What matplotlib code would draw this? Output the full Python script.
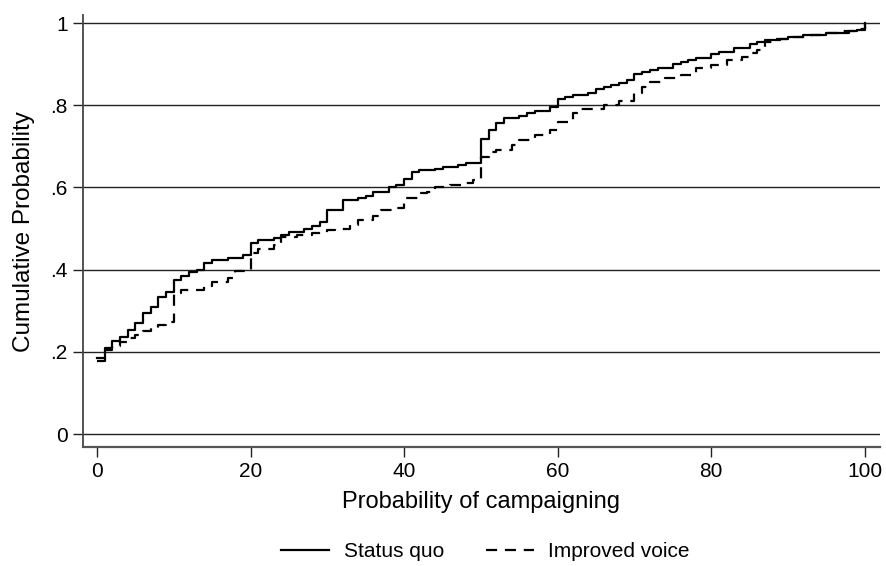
"""Status quo vs improved voice: cumulative distribution of campaigning probability."""
import matplotlib
matplotlib.use('Agg')

import matplotlib.pyplot as plt
from matplotlib.lines import Line2D

# ── data (step positions after each jump) ────────────────────────────────────
SQ_X = [0, 1, 2, 3, 4, 5, 6, 7, 8, 9, 10, 11, 12, 13, 14, 15, 17, 19, 20, 21,
        23, 24, 25, 27, 28, 29, 30, 32, 34, 35, 36, 38, 39, 40, 41, 42, 44, 45,
        47, 48, 50, 51, 52, 53, 55, 56, 57, 59, 60, 61, 62, 64, 65, 66, 67, 68,
        69, 70, 71, 72, 73, 75, 76, 77, 78, 80, 81, 83, 85, 86, 87, 89, 90, 92,
        95, 98, 99, 100]
SQ_Y = [0.185, 0.21, 0.226, 0.236, 0.253, 0.27, 0.294, 0.31, 0.333, 0.345,
        0.374, 0.385, 0.394, 0.40, 0.416, 0.423, 0.428, 0.435, 0.465, 0.472,
        0.478, 0.485, 0.492, 0.50, 0.507, 0.515, 0.545, 0.57, 0.575, 0.58,
        0.588, 0.60, 0.606, 0.62, 0.637, 0.642, 0.646, 0.65, 0.655, 0.66,
        0.718, 0.74, 0.757, 0.77, 0.775, 0.78, 0.785, 0.796, 0.815, 0.82,
        0.825, 0.83, 0.84, 0.845, 0.85, 0.855, 0.861, 0.876, 0.88, 0.885,
        0.89, 0.90, 0.905, 0.91, 0.915, 0.925, 0.93, 0.94, 0.95, 0.955,
        0.959, 0.962, 0.966, 0.97, 0.975, 0.98, 0.983, 1.0]

IV_X = [0, 1, 2, 3, 4, 5, 6, 7, 8, 9, 10, 11, 14, 15, 17, 18, 20, 21, 23, 24,
        26, 28, 30, 31, 33, 34, 36, 37, 39, 40, 42, 43, 44, 46, 48, 49, 50, 51,
        52, 54, 55, 57, 59, 60, 62, 63, 66, 68, 70, 71, 72, 74, 76, 78, 80, 82,
        84, 85, 86, 87, 88, 90, 93, 95, 97, 99, 100]
IV_Y = [0.178, 0.204, 0.215, 0.225, 0.235, 0.24, 0.25, 0.258, 0.265, 0.273,
        0.343, 0.35, 0.36, 0.37, 0.38, 0.397, 0.44, 0.45, 0.46, 0.48, 0.485,
        0.49, 0.496, 0.50, 0.508, 0.52, 0.53, 0.545, 0.55, 0.574, 0.586, 0.59,
        0.60, 0.606, 0.61, 0.618, 0.674, 0.686, 0.69, 0.703, 0.715, 0.727,
        0.74, 0.76, 0.78, 0.79, 0.80, 0.81, 0.83, 0.845, 0.856, 0.866, 0.873,
        0.89, 0.898, 0.91, 0.917, 0.927, 0.935, 0.955, 0.96, 0.965, 0.97,
        0.975, 0.98, 0.985, 1.0]

X_TICKS = [0, 20, 40, 60, 80, 100]
Y_TICKS = [0, 0.2, 0.4, 0.6, 0.8, 1.0]
Y_LABELS = ['0', '.2', '.4', '.6', '.8', '1']

DASH = (0, (5, 3.5))

plt.rcParams['font.family'] = ['Liberation Sans', 'DejaVu Sans']

fig = plt.figure(figsize=(8.86, 5.66), dpi=100)
ax = fig.add_axes([0.0937, 0.210, 0.8993, 0.7635])

# 가로 격자선
for yv in Y_TICKS:
    ax.axhline(yv, color='#222222', linewidth=1.0, zorder=1)

ax.step(SQ_X, SQ_Y, where='post', color='black', linewidth=1.6, zorder=3)
ax.step(IV_X, IV_Y, where='post', color='black', linewidth=1.6,
        linestyle=DASH, zorder=3)

ax.set_xlim(-1.82, 101.95)
ax.set_ylim(-0.0316, 1.0195)
ax.set_xticks(X_TICKS)
ax.set_yticks(Y_TICKS)
ax.set_yticklabels(Y_LABELS)
ax.tick_params(axis='both', direction='out', length=7, width=1.0,
               labelsize=15, color='#222222')
ax.tick_params(axis='x', pad=4)
ax.tick_params(axis='y', pad=4)

ax.spines[['top', 'right']].set_visible(False)
ax.spines['left'].set_linewidth(1.3)
ax.spines['left'].set_color('#444444')
ax.spines['bottom'].set_linewidth(1.6)
ax.spines['bottom'].set_color('#555555')

ax.set_xlabel('Probability of campaigning', fontsize=17, labelpad=7)
ax.set_ylabel('Cumulative Probability', fontsize=17.5, labelpad=11)

handles = [
    Line2D([], [], color='black', linewidth=1.6, label='Status quo'),
    Line2D([], [], color='black', linewidth=1.6, linestyle=DASH,
           label='Improved voice'),
]
fig.legend(handles=handles, loc='center', bbox_to_anchor=(0.548, 0.025),
           ncol=2, frameon=False, fontsize=15, handlelength=2.3,
           columnspacing=2.0, handletextpad=0.7)

fig.savefig('out.png', dpi=100)
